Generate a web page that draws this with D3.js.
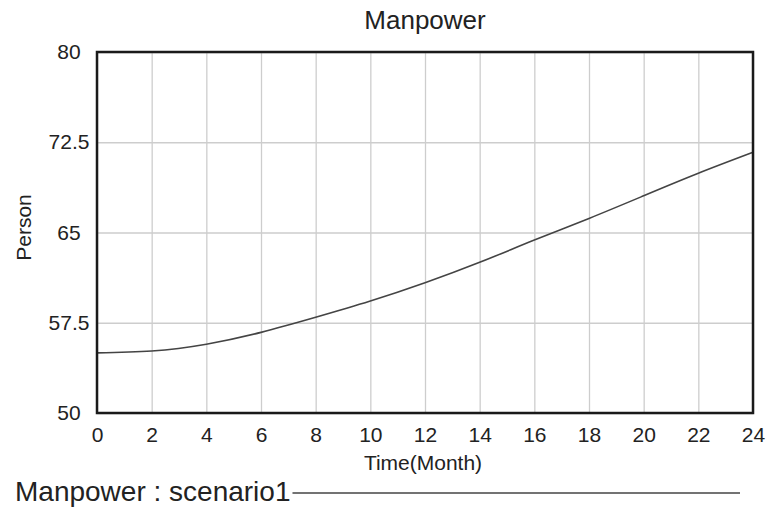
<!DOCTYPE html>
<html>
<head>
<meta charset="utf-8">
<script src="https://d3js.org/d3.v7.min.js"></script>
<style>
    body { margin: 0; background: #fff; }
    text { font-family: "Liberation Sans", Arial, sans-serif; fill: #222; }
</style>
</head>
<body>
<div id="chart"></div>
<script>
// values
var months = [0, 2, 4, 6, 8, 10, 12, 14, 16, 18, 20, 22, 24];
var manpower = [55.0, 55.15, 55.72, 56.7, 57.95, 59.3, 60.82, 62.52, 64.37, 66.17, 68.05, 69.92, 71.66];
var xTicks = [0, 2, 4, 6, 8, 10, 12, 14, 16, 18, 20, 22, 24];
var yTicks = [50, 57.5, 65, 72.5, 80];
var chartTitle = 'Manpower';
var legendLabel = 'Manpower : scenario1';

var W = 767, H = 507;
var margin = {top: 52, right: 14, bottom: 94, left: 97};
var width = W - margin.left - margin.right,
    height = H - margin.top - margin.bottom;

var svg = d3.select("#chart").append("svg")
    .attr("width", W)
    .attr("height", H);

var g = svg.append("g")
    .attr("transform", "translate(" + margin.left + "," + margin.top + ")");

var x = d3.scaleLinear().domain([0, 24]).range([0, width]);
var y = d3.scaleLinear().domain([50, 80]).range([height, 0]);

// grid
g.append("g")
    .attr("class", "grid")
    .call(d3.axisBottom(x).tickValues(xTicks).tickSize(height).tickFormat(""))
    .call(function (s) {
        s.select(".domain").remove();
        s.selectAll("line").attr("stroke", "#cdcdcd").attr("stroke-width", 1.3);
    });

g.append("g")
    .attr("class", "grid")
    .call(d3.axisLeft(y).tickValues(yTicks).tickSize(-width).tickFormat(""))
    .call(function (s) {
        s.select(".domain").remove();
        s.selectAll("line").attr("stroke", "#cdcdcd").attr("stroke-width", 1.3);
    });

// x tick labels
var xAxis = g.append("g")
    .attr("transform", "translate(0," + height + ")")
    .call(d3.axisBottom(x).tickValues(xTicks).tickSize(0).tickPadding(14).tickFormat(d3.format("d")));
xAxis.select(".domain").remove();
xAxis.selectAll("text")
    .style("font-size", "21px")
    .style("font-family", "Liberation Sans, Arial, sans-serif")
    .attr("fill", "#222");

// y tick labels
var yAxis = g.append("g")
    .call(d3.axisLeft(y).tickValues(yTicks).tickSize(0).tickPadding(28).tickFormat(function (d) { return d; }));
yAxis.select(".domain").remove();
yAxis.selectAll("text")
    .style("font-size", "21px")
    .style("font-family", "Liberation Sans, Arial, sans-serif")
    .attr("text-anchor", "middle")
    .attr("fill", "#222");

// curve
var line = d3.line()
    .x(function (d, i) { return x(months[i]); })
    .y(function (d) { return y(d); })
    .curve(d3.curveNatural);

g.append("path")
    .datum(manpower)
    .attr("fill", "none")
    .attr("stroke", "#444")
    .attr("stroke-width", 1.6)
    .attr("d", line);

// frame
g.append("rect")
    .attr("x", 0)
    .attr("y", 0)
    .attr("width", width)
    .attr("height", height)
    .attr("fill", "none")
    .attr("stroke", "#1a1a1a")
    .attr("stroke-width", 2.5);

// title
svg.append("text")
    .attr("x", margin.left + width / 2)
    .attr("y", 29)
    .attr("text-anchor", "middle")
    .style("font-size", "26px")
    .text(chartTitle);

// axis titles
svg.append("text")
    .attr("x", margin.left + width / 2 - 2)
    .attr("y", 470)
    .attr("text-anchor", "middle")
    .style("font-size", "21px")
    .text("Time(Month)");

svg.append("text")
    .attr("transform", "translate(31," + (margin.top + height / 2 - 5) + ") rotate(-90)")
    .attr("text-anchor", "middle")
    .style("font-size", "21px")
    .text("Person");

// legend
var legendText = svg.append("text")
    .attr("x", 15)
    .attr("y", 501)
    .style("font-size", "28px")
    .text(legendLabel);

var lw = legendText.node().getComputedTextLength();
svg.append("line")
    .attr("x1", 15 + lw + 2)
    .attr("x2", 740)
    .attr("y1", 493)
    .attr("y2", 493)
    .attr("stroke", "#444")
    .attr("stroke-width", 1.5);
</script>
</body>
</html>
